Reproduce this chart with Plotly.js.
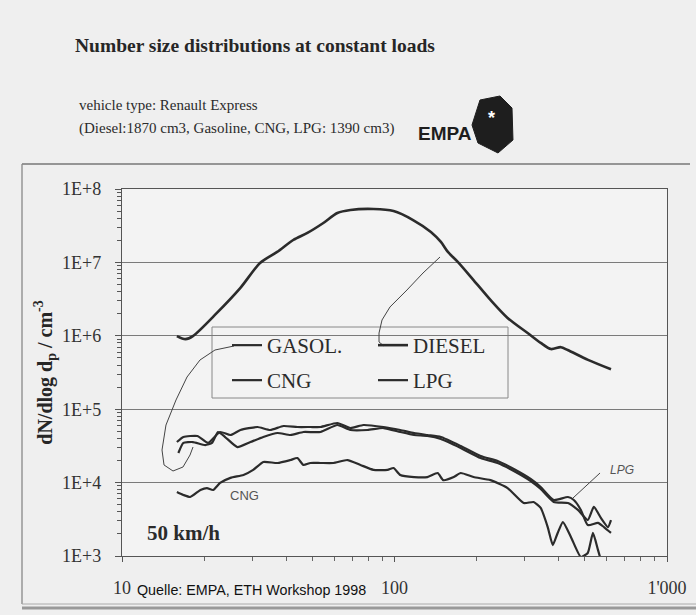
<!DOCTYPE html>
<html>
<head>
<meta charset="utf-8">
<script src="https://cdn.plot.ly/plotly-3.0.1.min.js"></script>
<style>html,body{margin:0;padding:0;background:#efefef;}#chart{width:696px;height:615px;}</style>
</head>
<body>
<div id="chart"></div>
<script>
// ---- data (particle diameter [nm] vs dN/dlog dp [cm^-3]) ----
const seriesNames = ["GASOL.", "DIESEL", "CNG", "LPG"];

const dieselX = [15.9,17.1,18.2,22.3,27.2,32.1,37.1,42.5,47.9,54.8,61.7,68.9,83.7,99.2,117,136,148,157,171,195,225,260,308,344,375,408,432,513,623];
const dieselY = [9.9e5,9.0e5,9.9e5,2.05e6,4.5e6,9.8e6,1.39e7,2.02e7,2.52e7,3.44e7,4.71e7,5.18e7,5.34e7,5.01e7,3.78e7,2.6e7,1.9e7,1.39e7,1.01e7,5.75e6,3.08e6,1.75e6,1.09e6,8.0e5,6.6e5,7.0e5,6.4e5,4.7e5,3.5e5];

const gasolX = [16.1,16.8,18.2,20.2,21.4,22.5,23.9,26.5,29.6,33.0,37.2,41.5,46.3,53.5,61.7,68.9,79.6,91.1,105,118,132,148,175,207,239,274,316,344,384,433,471,512,539,572,607,623];
const gasolY = [2.53e4,3.47e4,3.57e4,3.25e4,3.47e4,4.89e4,4.18e4,3.05e4,3.57e4,4.18e4,4.74e4,4.45e4,4.89e4,4.89e4,6.09e4,5.21e4,5.21e4,5.54e4,4.89e4,4.45e4,4.32e4,3.93e4,2.96e4,2.16e4,1.85e4,1.44e4,1.05e4,8.18e3,5.44e3,5.27e3,4.24e3,3.09e3,4.66e3,3.30e3,2.48e3,3.09e3];

const lpgX = [15.9,16.8,18.9,20.7,22.9,25.0,27.2,31.4,35.0,39.1,44.0,49.1,53.5,61.7,68.9,76.9,91.1,105,118,132,148,175,207,239,274,316,344,384,433,455,483,512,558,587,623];
const lpgY = [3.57e4,4.18e4,4.32e4,3.47e4,4.89e4,4.45e4,5.21e4,5.72e4,5.21e4,5.90e4,5.72e4,5.72e4,5.72e4,6.49e4,5.54e4,6.09e4,5.72e4,5.21e4,4.74e4,4.45e4,4.18e4,3.15e4,2.30e4,1.97e4,1.53e4,1.12e4,8.71e3,5.79e3,6.37e3,5.79e3,4.24e3,2.64e3,2.82e3,2.48e3,2.06e3];

const cngX = [15.9,16.8,17.8,19.4,20.5,21.6,22.9,25.0,27.9,30.3,33.0,37.2,41.5,44.0,46.3,49.1,53.5,59.7,67.2,75.0,83.7,94.3,99.2,105,118,132,144,151,165,175,195,225,260,298,324,344,365,381,397,415,444,483,512,535,558,572];
const cngY = [7.44e3,6.78e3,6.37e3,7.93e3,8.43e3,7.93e3,9.88e3,1.16e4,1.27e4,1.49e4,1.91e4,1.85e4,2.03e4,2.16e4,1.74e4,1.85e4,1.85e4,1.85e4,2.03e4,1.74e4,1.49e4,1.49e4,1.58e4,1.27e4,1.19e4,1.19e4,1.35e4,1.08e4,1.19e4,1.35e4,1.19e4,1.08e4,8.43e3,5.27e3,5.44e3,4.51e3,2.48e3,1.41e3,2.06e3,2.90e3,1.82e3,969,1.10e3,2.06e3,1.21e3,883];

const yTickVals = [1e3,1e4,1e5,1e6,1e7,1e8];
const yTickText = ["1E+3","1E+4","1E+5","1E+6","1E+7","1E+8"];
const xTickVals = [10,100,1000];
const xTickText = ["10","100","1'000"];

// minor log tick positions (2..9 within each decade)
function minorLog(k0, k1){ const v=[]; for(let k=k0;k<k1;k++){ for(let m=2;m<=9;m++){ v.push(m*Math.pow(10,k)); } } return v; }
const yMinor = minorLog(3, 8);
const xMinor = minorLog(1, 3);

// ---- styling ----
const ink = "#2b2b2b";
const serif = "Liberation Serif, Times New Roman, serif";
const sans = "Liberation Sans, Arial, sans-serif";

function tr(name, x, y, w, smooth, leg) {
  return {type:"scatter", mode:"lines", name:name, x:x, y:y, legend:leg,
          line:{color:ink, width:w, shape:"spline", smoothing:smooth}};
}
const data = [
  tr(seriesNames[0], gasolX, gasolY, 2.2, 0.5, "legend"),
  tr(seriesNames[1], dieselX, dieselY, 2.6, 0.8, "legend"),
  tr(seriesNames[2], cngX, cngY, 2.2, 0.5, "legend2"),
  tr(seriesNames[3], lpgX, lpgY, 2.2, 0.5, "legend2")
];

// pixel -> paper helpers for decorations (plot area 122..667 x 189..556)
const px = v => (v - 122) / 545;
const py = v => (556 - v) / 367;
function path(pts){ return pts.map((p,i)=>(i?"L":"M")+px(p[0]).toFixed(4)+","+py(p[1]).toFixed(4)).join(" "); }

const gasolConn = [[234,346],[215,350],[200,360],[187,377],[176,400],[166,425],[162,450],[164,465],[173,471],[183,467],[190,455],[193,447]];
const dieselConn = [[384,346],[379,342],[379,333],[382,320],[390,307],[407,290],[423,273],[440,257]];
const lpgConn = [[600,473],[573,498]];
const shield = [[480,100],[500,96],[512,108],[513,140],[498,153],[478,143],[472,125]];

const legendCommon = {orientation:"h", xanchor:"left", yanchor:"top", entrywidth:101, entrywidthmode:"pixels",
  bgcolor:"rgba(0,0,0,0)", borderwidth:0, font:{family:serif, size:21, color:"#2b2b2b"}, traceorder:"normal", itemwidth:30};

const layout = {
  width:696, height:615,
  margin:{l:122, r:29, t:189, b:59},
  paper_bgcolor:"#efefef", plot_bgcolor:"#f3f3f3",
  showlegend:true,
  title:{text:"<b>Number size distributions at constant loads</b>", x:75/696, xanchor:"left", y:1-45/615, yanchor:"middle",
         font:{family:serif, size:19.5, color:"#262626"}},
  xaxis:{type:"log", range:[1,3], tickmode:"array", tickvals:xTickVals, ticktext:xTickText,
         showgrid:false, zeroline:false, showline:true, mirror:true, linecolor:"#555", linewidth:1.2,
         ticks:"outside", ticklen:5, tickcolor:"#555", ticklabelstandoff:10,
         minor:{tickmode:"array", tickvals:xMinor, ticks:"outside", ticklen:4, tickcolor:"#666", tickwidth:1, showgrid:false},
         tickfont:{family:serif, size:18, color:"#333"}},
  yaxis:{type:"log", range:[3,8], tickmode:"array", tickvals:yTickVals, ticktext:yTickText,
         showgrid:true, gridcolor:"#7a7a7a", gridwidth:1, zeroline:false, showline:true, mirror:true,
         linecolor:"#555", linewidth:1.2, ticks:"outside", ticklen:6, tickcolor:"#555", ticklabelstandoff:10,
         minor:{tickmode:"array", tickvals:yMinor, ticks:"outside", ticklen:4, tickcolor:"#555", tickwidth:1, showgrid:false},
         tickfont:{family:serif, size:18, color:"#333"},
         title:{text:"<b>dN/dlog d<sub>p</sub> / cm<sup>-3</sup></b>", standoff:4, font:{family:serif, size:20, color:"#262626"}}},
  legend:Object.assign({x:px(227), y:py(325)}, legendCommon),
  legend2:Object.assign({x:px(227), y:py(360)}, legendCommon),
  shapes:[
    {type:"line", xref:"paper", yref:"paper", x0:px(22), x1:px(690), y0:py(164), y1:py(164), line:{color:"#777", width:1.3}},
    {type:"line", xref:"paper", yref:"paper", x0:px(22), x1:px(22), y0:py(164), y1:py(604), line:{color:"#888", width:1.3}},
    {type:"line", xref:"paper", yref:"paper", x0:px(22), x1:px(696), y0:py(604), y1:py(604), line:{color:"#aaa", width:1}},
    {type:"line", xref:"paper", yref:"paper", x0:px(22), x1:px(696), y0:py(608), y1:py(608), line:{color:"#999", width:3}},
    {type:"rect", xref:"paper", yref:"paper", layer:"between", x0:px(212), x1:px(508), y0:py(398), y1:py(327),
     fillcolor:"#f3f3f3", line:{color:"#888", width:1}},
    {type:"path", xref:"paper", yref:"paper", path:path(gasolConn), line:{color:"#444", width:1}},
    {type:"path", xref:"paper", yref:"paper", path:path(dieselConn), line:{color:"#444", width:1}},
    {type:"path", xref:"paper", yref:"paper", path:path(lpgConn), line:{color:"#444", width:1}},
    {type:"path", xref:"paper", yref:"paper", path:path(shield)+" Z", fillcolor:"#1e1e1e", line:{color:"#1e1e1e", width:1}}
  ],
  annotations:[
    {xref:"paper", yref:"paper", x:px(77), y:py(105), xanchor:"left", yanchor:"middle", showarrow:false,
     text:"vehicle type: Renault Express", font:{family:serif, size:15, color:"#2b2b2b"}},
    {xref:"paper", yref:"paper", x:px(77), y:py(128), xanchor:"left", yanchor:"middle", showarrow:false,
     text:"(Diesel:1870 cm3, Gasoline, CNG, LPG: 1390 cm3)", font:{family:serif, size:15, color:"#2b2b2b"}},
    {xref:"paper", yref:"paper", x:px(445), y:py(133), xanchor:"center", yanchor:"middle", showarrow:false,
     text:"<b>EMPA</b>", font:{family:sans, size:19, color:"#1e1e1e"}},
    {xref:"paper", yref:"paper", x:px(491), y:py(118), xanchor:"center", yanchor:"middle", showarrow:false,
     text:"<b>*</b>", font:{family:sans, size:18, color:"#ffffff"}},
    {xref:"paper", yref:"paper", x:px(183), y:py(533), xanchor:"center", yanchor:"middle", showarrow:false,
     text:"<b>50 km/h</b>", font:{family:serif, size:21, color:"#2b2b2b"}},
    {xref:"paper", yref:"paper", x:px(244), y:py(495), xanchor:"center", yanchor:"middle", showarrow:false,
     text:"CNG", font:{family:sans, size:13, color:"#555"}},
    {xref:"paper", yref:"paper", x:px(622), y:py(470), xanchor:"center", yanchor:"middle", showarrow:false,
     text:"<i>LPG</i>", font:{family:sans, size:12, color:"#555"}},
    {xref:"paper", yref:"paper", x:px(135), y:py(590), xanchor:"left", yanchor:"middle", showarrow:false,
     text:"Quelle: EMPA, ETH Workshop 1998", font:{family:sans, size:14.3, color:"#111"}}
  ]
};

Plotly.newPlot("chart", data, layout, {displayModeBar:false, staticPlot:true});
</script>
</body>
</html>
